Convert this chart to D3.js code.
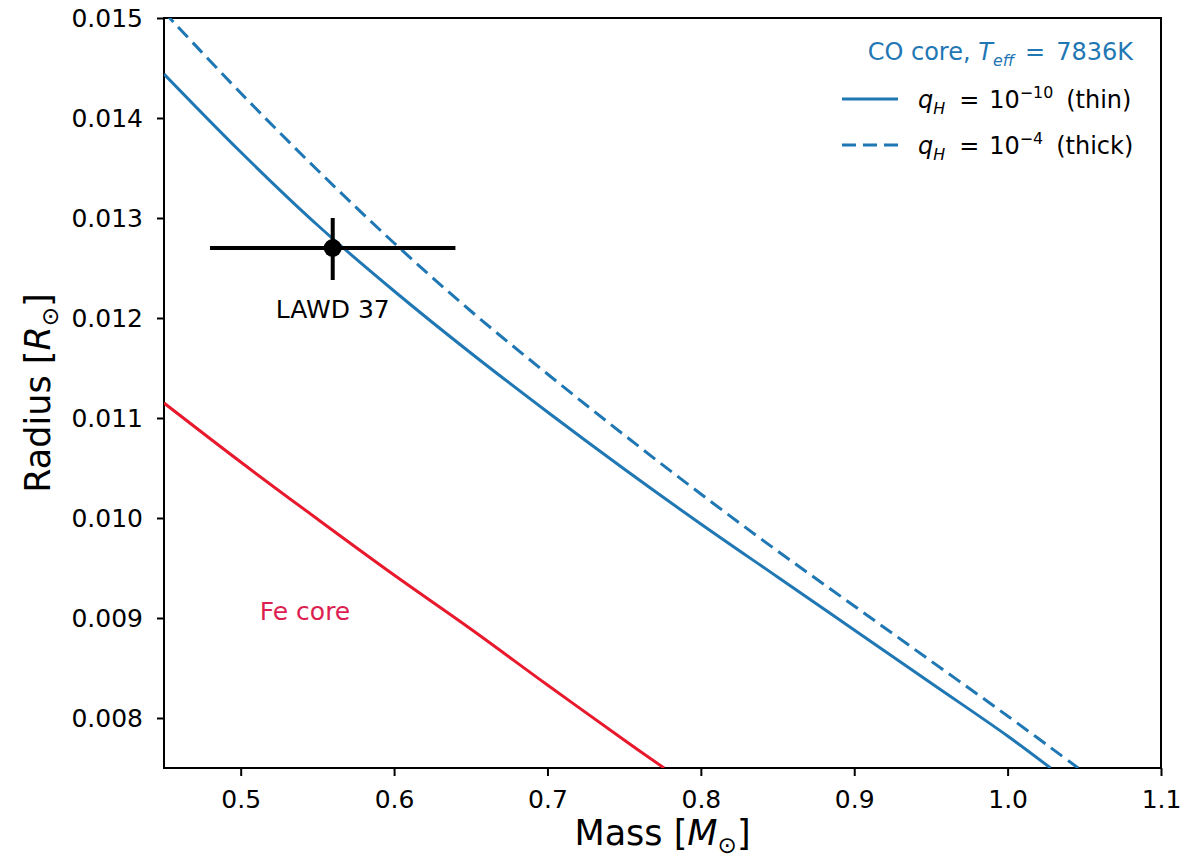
<!DOCTYPE html>
<html>
<head>
<meta charset="utf-8">
<script src="https://cdn.jsdelivr.net/npm/d3@7"></script>
<style>
  body { margin: 0; background: #fff; }
  text { font-family: "DejaVu Sans", sans-serif; }
</style>
</head>
<body>
<svg id="chart" width="1204" height="860"></svg>
<script>
// CO core models, Teff = 7836K
const coMass = [0.45, 0.50, 0.55, 0.60, 0.65, 0.70, 0.75, 0.80, 0.85, 0.90, 0.95, 1.00];
const thinRadius = [0.01444, 0.01366, 0.01293, 0.01227, 0.01165, 0.01106, 0.01049, 0.00994, 0.00941, 0.00888, 0.00835, 0.00782];
const thickRadius = [0.01506, 0.01425, 0.01348, 0.01275, 0.01207, 0.01144, 0.01083, 0.01024, 0.00967, 0.00912, 0.00857, 0.00802];
const thinEnd = [1.028, 0.0075];
const thickEnd = [1.046, 0.0075];

// Fe core model
const feMass = [0.45, 0.50, 0.55, 0.60, 0.65, 0.70, 0.75, 0.776];
const feRadius = [0.01115, 0.01056, 0.00999, 0.00943, 0.00889, 0.00833, 0.00778, 0.0075];

// observed star
const starName = "LAWD 37";
const starMass = [0.48, 0.56, 0.64];        // low, value, high
const starRadius = [0.01238, 0.0127, 0.0130]; // low, value, high

const xTicks = [0.5, 0.6, 0.7, 0.8, 0.9, 1.0, 1.1];
const yTicks = [0.008, 0.009, 0.010, 0.011, 0.012, 0.013, 0.014, 0.015];

const blue = "#1f77b4";
const red = "#e8192c";

const svg = d3.select("#chart");
const pLeft = 164, pRight = 1161, pTop = 18, pBottom = 768;

const x = d3.scaleLinear().domain([0.45, 1.1]).range([pLeft, pRight]);
const y = d3.scaleLinear().domain([0.0075, 0.015]).range([pBottom, pTop]);

svg.append("clipPath").attr("id", "plotclip")
    .append("rect")
    .attr("x", pLeft).attr("y", pTop)
    .attr("width", pRight - pLeft).attr("height", pBottom - pTop);

// rich text helper (italic / sub / sup pieces, like matplotlib mathtext)
function richText(sel, parts, size) {
    let shift = 0;
    sel.style("white-space", "pre").attr("font-size", size);
    parts.forEach(p => {
        const target = p.sub ? size * 0.24 : p.sup ? -size * 0.42 : 0;
        sel.append("tspan")
            .attr("dx", p.dx || null)
            .attr("dy", target - shift)
            .attr("font-size", (p.sub || p.sup) ? size * 0.66 : size)
            .attr("font-style", p.i ? "italic" : null)
            .text(p.t);
        shift = target;
    });
}

// axes
const xAxis = d3.axisBottom(x).tickValues(xTicks).tickFormat(d3.format(".1f"))
    .tickSize(8).tickSizeOuter(0).tickPadding(14);
const gx = svg.append("g").attr("transform", "translate(0," + pBottom + ")").call(xAxis);

const yAxis = d3.axisLeft(y).tickValues(yTicks).tickFormat(d3.format(".3f"))
    .tickSize(7).tickSizeOuter(0).tickPadding(14);
const gy = svg.append("g").attr("transform", "translate(" + pLeft + ",0)").call(yAxis);

[gx, gy].forEach(g => {
    g.selectAll("text").attr("font-size", 25).attr("fill", "#000")
        .attr("font-family", "DejaVu Sans");
    g.selectAll("line").attr("stroke", "#000").attr("stroke-width", 2);
    g.select(".domain").remove();
});

// frame
svg.append("rect")
    .attr("x", pLeft).attr("y", pTop)
    .attr("width", pRight - pLeft).attr("height", pBottom - pTop)
    .attr("fill", "none").attr("stroke", "#000").attr("stroke-width", 2);

// curves
const line = d3.line()
    .x(d => x(d[0]))
    .y(d => y(d[1]))
    .curve(d3.curveCatmullRom.alpha(0.5));

const plot = svg.append("g").attr("clip-path", "url(#plotclip)");

const thinPts = coMass.map((m, i) => [m, thinRadius[i]]).concat([thinEnd]);
const thickPts = coMass.map((m, i) => [m, thickRadius[i]]).concat([thickEnd]);
const fePts = feMass.map((m, i) => [m, feRadius[i]]);

plot.append("path").datum(thinPts)
    .attr("d", line).attr("fill", "none")
    .attr("stroke", blue).attr("stroke-width", 3);

plot.append("path").datum(thickPts)
    .attr("d", line).attr("fill", "none")
    .attr("stroke", blue).attr("stroke-width", 3)
    .attr("stroke-dasharray", "14,7");

plot.append("path").datum(fePts)
    .attr("d", line).attr("fill", "none")
    .attr("stroke", red).attr("stroke-width", 3);

// error bars + point
plot.append("line")
    .attr("x1", x(starMass[0])).attr("x2", x(starMass[2]))
    .attr("y1", y(starRadius[1])).attr("y2", y(starRadius[1]))
    .attr("stroke", "#000").attr("stroke-width", 4);
plot.append("line")
    .attr("x1", x(starMass[1])).attr("x2", x(starMass[1]))
    .attr("y1", y(starRadius[0])).attr("y2", y(starRadius[2]))
    .attr("stroke", "#000").attr("stroke-width", 4);
plot.append("circle")
    .attr("cx", x(starMass[1])).attr("cy", y(starRadius[1]))
    .attr("r", 9).attr("fill", "#000");

svg.append("text")
    .attr("x", x(starMass[1])).attr("y", y(starRadius[1]) + 70)
    .attr("text-anchor", "middle").attr("font-size", 25).attr("fill", "#000")
    .text(starName);

svg.append("text")
    .attr("x", 305).attr("y", 620)
    .attr("text-anchor", "middle").attr("font-size", 25).attr("fill", "#dc1e50")
    .text("Fe core");

// axis labels
richText(svg.append("text")
    .attr("x", (pLeft + pRight) / 2).attr("y", 845)
    .attr("text-anchor", "middle").attr("fill", "#000"),
    [{t: "Mass ["}, {t: "M", i: true}, {t: "\u2299", sub: true}, {t: "]"}], 35);

richText(svg.append("text")
    .attr("transform", "translate(50," + (pTop + pBottom) / 2 + ") rotate(-90)")
    .attr("text-anchor", "middle").attr("fill", "#000"),
    [{t: "Radius ["}, {t: "R", i: true}, {t: "\u2299", sub: true}, {t: "]"}], 35);

// legend
const legend = svg.append("g");
richText(legend.append("text").attr("x", 1133).attr("y", 60)
    .attr("text-anchor", "end").attr("fill", blue),
    [{t: "CO core, "}, {t: "T", i: true}, {t: "eff", i: true, sub: true},
     {t: "=", dx: 11}, {t: "7836K", dx: 11}], 24);

const legendRows = [
    {dash: null, parts: [{t: "q", i: true}, {t: "H", i: true, sub: true}, {t: "=", dx: 14},
        {t: "10", dx: 10}, {t: "\u221210", sup: true}, {t: "(thin)", dx: 13}]},
    {dash: "14,7", parts: [{t: "q", i: true}, {t: "H", i: true, sub: true}, {t: "=", dx: 14},
        {t: "10", dx: 10}, {t: "\u22124", sup: true}, {t: "(thick)", dx: 13}]}
];
legendRows.forEach((r, i) => {
    const ly = 99 + i * 46;
    legend.append("line")
        .attr("x1", 842).attr("x2", 898).attr("y1", ly).attr("y2", ly)
        .attr("stroke", blue).attr("stroke-width", 3)
        .attr("stroke-dasharray", r.dash);
    richText(legend.append("text").attr("x", 918).attr("y", ly + 9).attr("fill", "#000"),
        r.parts, 24);
});
</script>
</body>
</html>
